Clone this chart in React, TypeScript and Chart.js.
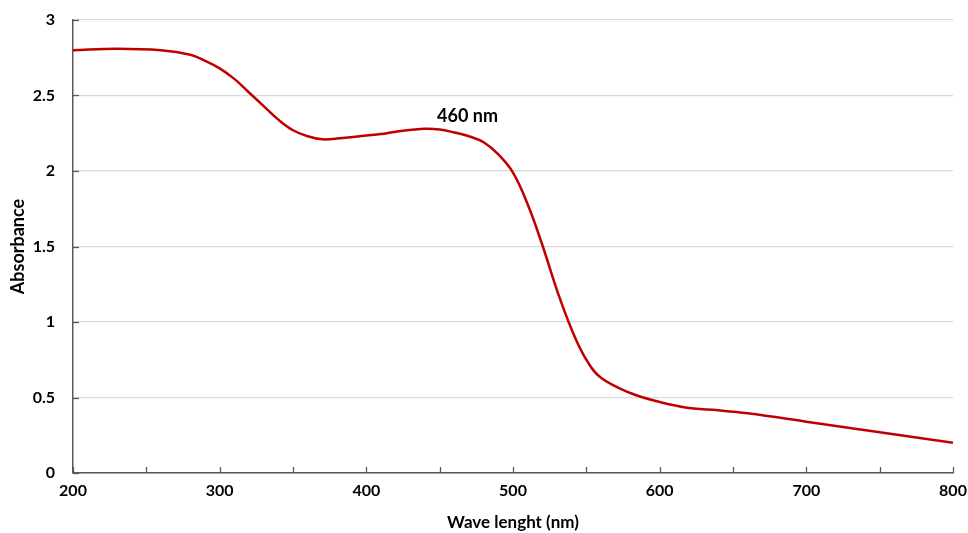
import React, { useEffect, useRef } from "react";
import { Chart, registerables } from "chart.js";

Chart.register(...registerables);

const wavelengths = [200, 230, 260, 280, 290, 300, 310, 320, 330, 340, 350, 360, 370, 380, 400, 410, 420, 440, 450, 460, 470, 480, 490, 500, 510, 520, 530, 540, 550, 560, 580, 600, 620, 640, 660, 700, 750, 800];
const absorbance = [2.80, 2.81, 2.80, 2.77, 2.73, 2.68, 2.61, 2.52, 2.43, 2.34, 2.27, 2.23, 2.21, 2.215, 2.235, 2.245, 2.26, 2.28, 2.275, 2.255, 2.23, 2.19, 2.11, 1.99, 1.78, 1.51, 1.21, 0.95, 0.75, 0.63, 0.53, 0.47, 0.43, 0.415, 0.395, 0.34, 0.27, 0.20];
const xTicks = [200, 300, 400, 500, 600, 700, 800];
const yTicks = [0, 0.5, 1, 1.5, 2, 2.5, 3];
const peakLabel = "460 nm";
const peakLabelAt = { x: 469, y: 2.36 };

const FONT = "Lato, 'Open Sans', sans-serif";

export default function App() {
  const ref = useRef<HTMLCanvasElement | null>(null);

  useEffect(() => {
    document.body.style.margin = "0";
    const canvas = ref.current;
    if (!canvas) return;

    const extras = {
      id: "extras",
      afterDraw(chart: any) {
        const ctx = chart.ctx;
        const xs = chart.scales.x;
        const ys = chart.scales.y;
        ctx.save();
        ctx.strokeStyle = "#595959";
        ctx.lineWidth = 1.3;
        for (const t of xs.ticks) {
          const px = Math.round(xs.getPixelForValue(t.value)) + 0.5;
          ctx.beginPath();
          ctx.moveTo(px, ys.bottom);
          ctx.lineTo(px, ys.bottom - 6);
          ctx.stroke();
        }
        for (const t of ys.ticks) {
          const py = Math.round(ys.getPixelForValue(t.value)) + 0.5;
          ctx.beginPath();
          ctx.moveTo(xs.left, py);
          ctx.lineTo(xs.left + 6, py);
          ctx.stroke();
        }
        ctx.fillStyle = "#000";
        ctx.font = `bold 18px ${FONT}`;
        ctx.textAlign = "center";
        ctx.textBaseline = "middle";
        ctx.fillText(peakLabel, xs.getPixelForValue(peakLabelAt.x), ys.getPixelForValue(peakLabelAt.y));
        ctx.restore();
      },
    };

    const chart = new Chart(canvas, {
      type: "line",
      data: {
        datasets: [
          {
            data: wavelengths.map((w, i) => ({ x: w, y: absorbance[i] })),
            borderColor: "#C00000",
            borderWidth: 2.5,
            pointRadius: 0,
            tension: 0.4,
            fill: false,
          },
        ],
      },
      options: {
        responsive: false,
        animation: false,
        layout: { padding: { top: 20, right: 15, left: 0, bottom: 0 } },
        plugins: { legend: { display: false }, tooltip: { enabled: false } },
        scales: {
          x: {
            type: "linear",
            min: 200,
            max: 800,
            afterFit: (s: any) => {
              s.height = 60;
              s.paddingLeft = 0;
              s.paddingRight = 0;
            },
            ticks: {
              stepSize: 50,
              autoSkip: false,
              maxRotation: 0,
              padding: 8,
              color: "#000",
              font: { family: FONT, weight: "bold", size: 16 },
              callback: (v: any) => (xTicks.includes(Number(v)) ? String(v) : ""),
            },
            grid: { display: false, drawTicks: false },
            border: { display: true, color: "#595959", width: 1.5 },
            title: {
              display: true,
              text: "Wave lenght (nm)",
              color: "#000",
              font: { family: FONT, weight: "bold", size: 17 },
              padding: { top: 3, bottom: 0 },
            },
          },
          y: {
            type: "linear",
            min: 0,
            max: 3,
            afterFit: (s: any) => {
              s.width = 73;
              s.paddingTop = 0;
              s.paddingBottom = 0;
            },
            ticks: {
              stepSize: 0.5,
              padding: 18,
              color: "#000",
              font: { family: FONT, weight: "bold", size: 16 },
              callback: (v: any) => (yTicks.includes(Number(v)) ? String(v) : ""),
            },
            grid: { color: "#D9D9D9", lineWidth: 1.2, drawTicks: false },
            border: { display: true, color: "#595959", width: 1.5 },
            title: {
              display: true,
              text: "Absorbance",
              color: "#000",
              font: { family: FONT, weight: "bold", size: 18 },
              padding: { top: 7, bottom: 0 },
            },
          },
        },
      },
      plugins: [extras],
    });

    return () => chart.destroy();
  }, []);

  return (
    <div style={{ position: "relative", width: 968, height: 533, background: "#fff" }}>
      <canvas ref={ref} width={968} height={533} style={{ display: "block" }} />
    </div>
  );
}
